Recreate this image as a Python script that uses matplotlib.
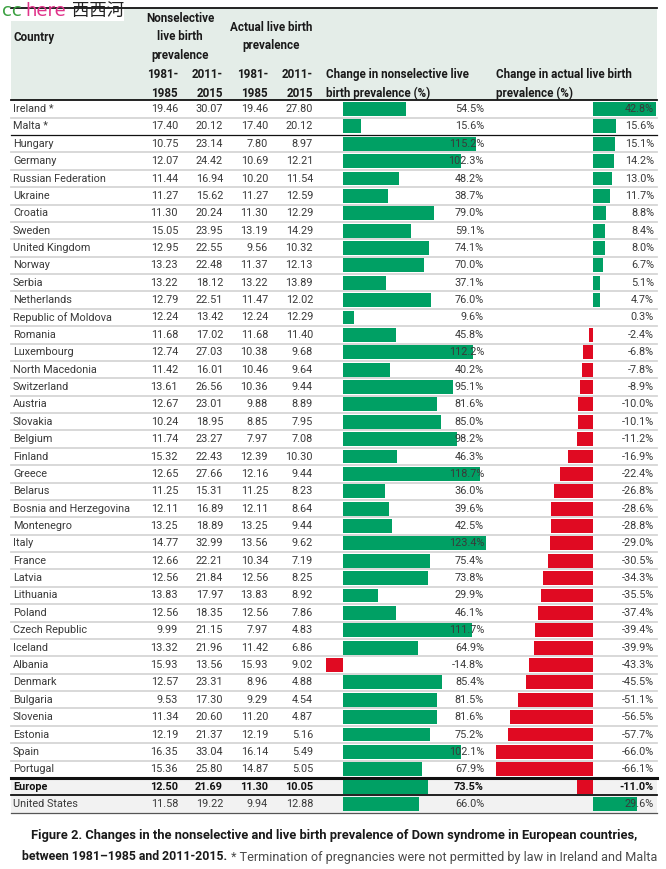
import matplotlib
matplotlib.use('Agg')
import matplotlib.pyplot as plt

#####
# Data

countries = [
    'Ireland *', 'Malta *', 'Hungary', 'Germany', 'Russian Federation',
    'Ukraine', 'Croatia', 'Sweden', 'United Kingdom', 'Norway', 'Serbia',
    'Netherlands', 'Republic of Moldova', 'Romania', 'Luxembourg',
    'North Macedonia', 'Switzerland', 'Austria', 'Slovakia', 'Belgium',
    'Finland', 'Greece', 'Belarus', 'Bosnia and Herzegovina', 'Montenegro',
    'Italy', 'France', 'Latvia', 'Lithuania', 'Poland', 'Czech Republic',
    'Iceland', 'Albania', 'Denmark', 'Bulgaria', 'Slovenia', 'Estonia',
    'Spain', 'Portugal', 'Europe', 'United States',
]

nonsel_8185 = [19.46, 17.40, 10.75, 12.07, 11.44, 11.27, 11.30, 15.05, 12.95,
               13.23, 13.22, 12.79, 12.24, 11.68, 12.74, 11.42, 13.61, 12.67,
               10.24, 11.74, 15.32, 12.65, 11.25, 12.11, 13.25, 14.77, 12.66,
               12.56, 13.83, 12.56, 9.99, 13.32, 15.93, 12.57, 9.53, 11.34,
               12.19, 16.35, 15.36, 12.50, 11.58]
nonsel_1115 = [30.07, 20.12, 23.14, 24.42, 16.94, 15.62, 20.24, 23.95, 22.55,
               22.48, 18.12, 22.51, 13.42, 17.02, 27.03, 16.01, 26.56, 23.01,
               18.95, 23.27, 22.43, 27.66, 15.31, 16.89, 18.89, 32.99, 22.21,
               21.84, 17.97, 18.35, 21.15, 21.96, 13.56, 23.31, 17.30, 20.60,
               21.37, 33.04, 25.80, 21.69, 19.22]
actual_8185 = [19.46, 17.40, 7.80, 10.69, 10.20, 11.27, 11.30, 13.19, 9.56,
               11.37, 13.22, 11.47, 12.24, 11.68, 10.38, 10.46, 10.36, 9.88,
               8.85, 7.97, 12.39, 12.16, 11.25, 12.11, 13.25, 13.56, 10.34,
               12.56, 13.83, 12.56, 7.97, 11.42, 15.93, 8.96, 9.29, 11.20,
               12.19, 16.14, 14.87, 11.30, 9.94]
actual_1115 = [27.80, 20.12, 8.97, 12.21, 11.54, 12.59, 12.29, 14.29, 10.32,
               12.13, 13.89, 12.02, 12.29, 11.40, 9.68, 9.64, 9.44, 8.89,
               7.95, 7.08, 10.30, 9.44, 8.23, 8.64, 9.44, 9.62, 7.19, 8.25,
               8.92, 7.86, 4.83, 6.86, 9.02, 4.88, 4.54, 4.87, 5.16, 5.49,
               5.05, 10.05, 12.88]
change_nonsel = [54.5, 15.6, 115.2, 102.3, 48.2, 38.7, 79.0, 59.1, 74.1, 70.0,
                 37.1, 76.0, 9.6, 45.8, 112.2, 40.2, 95.1, 81.6, 85.0, 98.2,
                 46.3, 118.7, 36.0, 39.6, 42.5, 123.4, 75.4, 73.8, 29.9, 46.1,
                 111.7, 64.9, -14.8, 85.4, 81.5, 81.6, 75.2, 102.1, 67.9,
                 73.5, 66.0]
change_actual = [42.8, 15.6, 15.1, 14.2, 13.0, 11.7, 8.8, 8.4, 8.0, 6.7, 5.1,
                 4.7, 0.3, -2.4, -6.8, -7.8, -8.9, -10.0, -10.1, -11.2, -16.9,
                 -22.4, -26.8, -28.6, -28.8, -29.0, -30.5, -34.3, -35.5,
                 -37.4, -39.4, -39.9, -43.3, -45.5, -51.1, -56.5, -57.7,
                 -66.0, -66.1, -11.0, 29.6]

GREEN = '#00a064'
RED = '#e00a22'
TXT = '#3a3a3a'
FONT = 'Roboto'

W, H = 666, 869
ROW0, ROWH = 109, 17.375   # pixel centre of first row, row pitch


def ry(px):
    # pixel height -> row units
    return (px - ROW0) / ROWH


n = len(countries)
rows = list(range(n))
eu = countries.index('Europe')

fig = plt.figure(figsize=(W / 100, H / 100), dpi=100)
ax = fig.add_axes([0, 0, 1, 1], zorder=0)
ax.set_xlim(0, W)
ax.set_ylim(ry(H), ry(0))
ax.axis('off')

L, R = 11, 657

# header background
ax.fill_between([L, R], ry(8), ry(100), color='#e4ede8', lw=0)
# grey background for Europe / US rows
ax.fill_between([L, R], eu - 0.5, n - 0.5, color='#f2f2f2', lw=0)

# row separators
for i in range(1, n):
    if i in (2, eu, eu + 1):
        continue
    ax.plot([L, R], [i - 0.5, i - 0.5], color='#d6d6d6', lw=1.3)
ax.plot([L, R], [ry(8)] * 2, color='#111111', lw=1.3)
ax.plot([L, R], [-0.5] * 2, color='#111111', lw=1.3)
ax.plot([L, R], [1.5] * 2, color='#111111', lw=0.9)
ax.plot([L, R], [eu - 0.5] * 2, color='#111111', lw=2.2)
ax.plot([L, R], [eu + 0.5] * 2, color='#111111', lw=1.3)
ax.plot([L, R], [n - 0.5] * 2, color='#555555', lw=0.9)

# header text
hk = dict(fontfamily=FONT, fontweight='bold', fontsize=8.4, color='#1a1a1a',
          linespacing=1.55)
ax.text(13, ry(37), 'Country', ha='left', va='center', **hk)
ax.text(180, ry(37), 'Nonselective\nlive birth\nprevalence', ha='center',
        va='center', **hk)
ax.text(271, ry(36.5), 'Actual live birth\nprevalence', ha='center',
        va='center', **hk)
for xr in (178, 223, 268, 313):
    lab = '1981-\n1985' if xr in (178, 268) else '2011-\n2015'
    ax.text(xr, ry(84), lab, ha='right', va='center', **hk)
ax.text(326, ry(84), 'Change in nonselective live\nbirth prevalence (%)',
        ha='left', va='center', **hk)
ax.text(496, ry(84), 'Change in actual live birth\nprevalence (%)',
        ha='left', va='center', **hk)

# table body
cols = [nonsel_8185, nonsel_1115, actual_8185, actual_1115]
for i in rows:
    bold = 'bold' if i == eu else 'normal'
    col = '#111111' if i == eu else TXT
    tk = dict(fontfamily=FONT, fontweight=bold, fontsize=7.8, color=col,
              va='center')
    ax.text(13, i, countries[i], ha='left', **tk)
    for xr, vals in zip((178, 223, 268, 313), cols):
        ax.text(xr, i, '%.2f' % vals[i], ha='right', **tk)

# bar columns
ax_n = fig.add_axes([320 / W, 0, 170 / W, 1], zorder=1)
ax_n.set_xlim(-20, 127.2)
ax_a = fig.add_axes([490 / W, 0, 167 / W, 1], zorder=1)
ax_a.set_xlim(-70.07, 43.54)
for a, vals, xr in ((ax_n, change_nonsel, 484), (ax_a, change_actual, 654)):
    a.set_ylim(ry(H), ry(0))
    a.axis('off')
    a.patch.set_alpha(0)
    colors = [GREEN if v >= 0 else RED for v in vals]
    a.barh(rows, vals, height=0.8, color=colors, lw=0)
    for i in rows:
        bold = 'bold' if i == eu else 'normal'
        col = '#111111' if i == eu else TXT
        a.text(xr, i, '%.1f%%' % vals[i], transform=ax.transData,
               ha='right', va='center', fontfamily=FONT, fontweight=bold,
               fontsize=7.8, color=col, zorder=5)

# caption: sizes fitted to the widths the caption takes in the original
r = fig.canvas.get_renderer()


def fitted(x, y, s, width, **kw):
    t = ax.text(x, y, s, fontfamily=FONT, fontsize=10, color='#1a1a1a',
                va='center', **kw)
    w = t.get_window_extent(r).width
    t.set_fontsize(10 * width / w)
    return t


fitted(334, ry(836), 'Figure 2. Changes in the nonselective and live birth '
       'prevalence of Down syndrome in European countries,', 607,
       ha='center', fontweight='bold')
part1 = 'between 1981\u20131985 and 2011-2015.'
part2 = ' * Termination of pregnancies were not permitted by law in Ireland and Malta'
t1 = fitted(22, ry(857), part1, 206, ha='left', fontweight='bold')
x1 = 22 + 206
t2 = fitted(x1, ry(857), part2, 656 - x1, ha='left', fontweight='normal')
t2.set_color('#4a4a4a')

# watermark
ax.fill_between([0, 124], ry(0), ry(21), color='white', lw=0, zorder=1.5)
wk = dict(fontsize=13, va='center', ha='left', zorder=2)
ax.text(2, ry(11), 'cc', color='#3aa040', fontfamily='DejaVu Sans', **wk)
ax.text(25, ry(11), 'here', color='#e0338a', fontfamily='DejaVu Sans', **wk)
ax.text(72, ry(11), '\u897f\u897f\u6cb3', color='#222222',
        fontfamily=['Noto Sans CJK SC', 'DejaVu Sans'], fontsize=12.5,
        va='center', ha='left', zorder=2)

fig.savefig('out.png', dpi=100)
plt.close(fig)
